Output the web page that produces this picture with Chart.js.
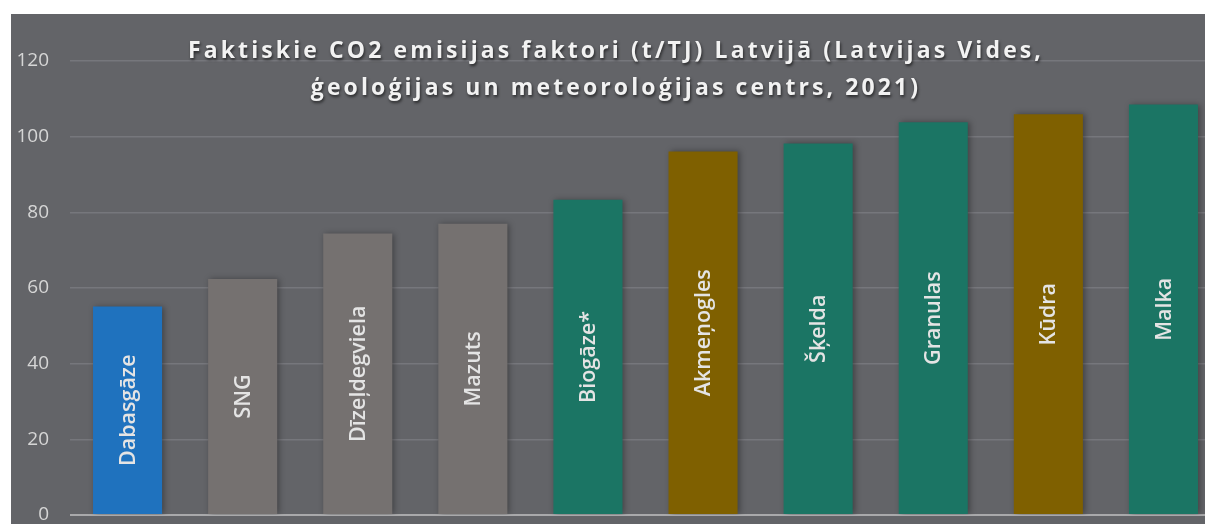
<!DOCTYPE html>
<html>
<head>
<meta charset="utf-8">
<script src="https://cdn.jsdelivr.net/npm/chart.js@4.4.1/dist/chart.umd.min.js"></script>
<style>
  html, body { margin: 0; padding: 0; background: #fff; }
  .frame { position: absolute; left: 0; top: 0; width: 1205px; height: 524px; overflow: hidden; background: #fff; }
  .chartBox { position: absolute; left: 11px; top: 14px; width: 1228px; height: 540px; background: #636468; }
</style>
</head>
<body>
<div class="frame">
  <div class="chartBox"><canvas id="c"></canvas></div>
</div>
<script>
const categories = ['Dabasgāze', 'SNG', 'Dīzeļdegviela', 'Mazuts', 'Biogāze*',
  'Akmeņogles', 'Šķelda', 'Granulas', 'Kūdra', 'Malka'];
const values = [55.1, 62.4, 74.4, 77.0, 83.3, 96.1, 98.2, 103.8, 105.9, 108.5];
const fuelGroup = ['gas', 'oil', 'oil', 'oil', 'bio', 'fossil', 'bio', 'bio', 'fossil', 'bio'];
const yTicks = [0, 20, 40, 60, 80, 100, 120];
const titleLines = [
  'Faktiskie CO2 emisijas faktori (t/TJ) Latvijā (Latvijas Vides,',
  'ģeoloģijas un meteoroloģijas centrs, 2021)'
];

const groupColors = { gas: '#1f72be', oil: '#757170', bio: '#1b7564', fossil: '#7f6000' };

// soft shadow behind the bars, like the Excel original
const barShadow = {
  id: 'barShadow',
  beforeDatasetsDraw(chart) {
    const { ctx } = chart;
    ctx.save();
    ctx.shadowColor = 'rgba(0,0,0,0.35)';
    ctx.shadowBlur = 6;
    ctx.shadowOffsetX = 2;
    ctx.shadowOffsetY = 0;
  },
  afterDatasetsDraw(chart) {
    chart.ctx.restore();
  }
};

// category names written vertically inside each bar
const barNames = {
  id: 'barNames',
  afterDatasetsDraw(chart) {
    const { ctx } = chart;
    const meta = chart.getDatasetMeta(0);
    ctx.save();
    ctx.font = '600 21.5px "Open Sans"';
    ctx.fillStyle = '#e4e4e4';
    ctx.textAlign = 'center';
    ctx.textBaseline = 'middle';
    meta.data.forEach((bar, i) => {
      const cy = (bar.y + bar.base) / 2;
      ctx.save();
      ctx.translate(bar.x, cy);
      ctx.rotate(-Math.PI / 2);
      ctx.fillText(categories[i], 0, 1);
      ctx.restore();
    });
    ctx.restore();
  }
};

// title sits over the plot area, so draw it ourselves
const overlayTitle = {
  id: 'overlayTitle',
  afterDraw(chart) {
    const { ctx } = chart;
    ctx.save();
    ctx.font = 'bold 23px "Open Sans"';
    ctx.letterSpacing = '3.1px';
    ctx.textAlign = 'center';
    ctx.textBaseline = 'middle';
    ctx.fillStyle = '#f2f2f2';
    ctx.shadowColor = 'rgba(0,0,0,0.6)';
    ctx.shadowBlur = 3;
    ctx.shadowOffsetX = 1;
    ctx.shadowOffsetY = 2;
    titleLines.forEach((line, i) => ctx.fillText(line, 605, 37 + i * 37));
    ctx.restore();
  }
};

new Chart(document.getElementById('c'), {
  type: 'bar',
  data: {
    labels: categories,
    datasets: [{
      data: values,
      backgroundColor: fuelGroup.map(g => groupColors[g]),
      borderWidth: 0,
      barPercentage: 0.6,
      categoryPercentage: 1
    }]
  },
  options: {
    responsive: true,
    maintainAspectRatio: false,
    animation: false,
    layout: { padding: { left: 0, top: 47, right: 18, bottom: 39 } },
    plugins: {
      legend: { display: false },
      title: { display: false },
      tooltip: { enabled: false }
    },
    scales: {
      x: { display: false },
      y: {
        min: 0,
        max: 120,
        afterBuildTicks: s => { s.ticks = yTicks.map(v => ({ value: v })); },
        afterFit: s => { s.width = 59; },
        border: { display: false },
        grid: {
          drawTicks: false,
          color: ctx => ctx.tick && ctx.tick.value === 0 ? '#a9a9ab' : '#76777c',
          lineWidth: ctx => ctx.tick && ctx.tick.value === 0 ? 2 : 1.5
        },
        ticks: {
          padding: 21,
          color: '#d6d6d6',
          font: { family: 'Open Sans', size: 19 }
        }
      }
    }
  },
  plugins: [barShadow, barNames, overlayTitle]
});
</script>
</body>
</html>
